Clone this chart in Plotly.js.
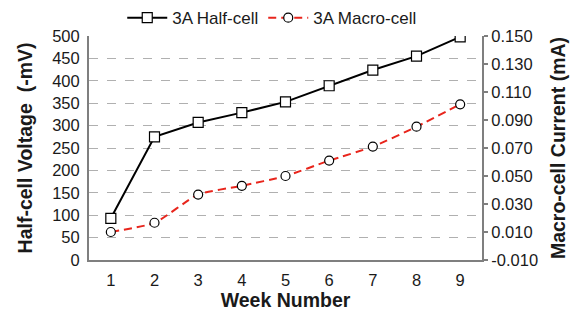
<!DOCTYPE html>
<html>
<head>
<meta charset="utf-8">
<script src="https://cdn.plot.ly/plotly-3.0.1.min.js"></script>
<style>html,body{margin:0;padding:0;background:#fff;}#chart{width:573px;height:311px;}</style>
</head>
<body>
<div id="chart"></div>
<script>
var weeks = [1, 2, 3, 4, 5, 6, 7, 8, 9];
var halfCell = [93, 275, 307, 329, 353, 389, 424, 455, 498];
var macroCell = [0.010, 0.0166, 0.0367, 0.043, 0.050, 0.061, 0.071, 0.0852, 0.1012];
var leftTicks = [0, 50, 100, 150, 200, 250, 300, 350, 400, 450, 500];
var rightTicks = [-0.010, 0.010, 0.030, 0.050, 0.070, 0.090, 0.110, 0.130, 0.150];
var rightTickText = ['-0.010', '0.010', '0.030', '0.050', '0.070', '0.090', '0.110', '0.130', '0.150'];

var font = 'Liberation Sans, Arial, sans-serif';
var traces = [
  {x: weeks, y: halfCell, name: '3A Half-cell', type: 'scatter', mode: 'lines+markers',
   line: {color: '#000000', width: 2},
   marker: {symbol: 'square', size: 10, color: '#ffffff', line: {color: '#000000', width: 1.2}}},
  {x: weeks, y: macroCell, name: '3A Macro-cell', type: 'scatter', mode: 'lines+markers', yaxis: 'y2',
   line: {color: '#e8251c', width: 2, dash: '8px,5px', shape: 'spline', smoothing: 0.6},
   marker: {symbol: 'circle', size: 9, color: '#ffffff', line: {color: '#000000', width: 1.2}}}
];
var layout = {
  width: 573, height: 311,
  margin: {l: 89, r: 91, t: 36, b: 51, autoexpand: false},
  paper_bgcolor: '#ffffff', plot_bgcolor: '#ffffff',
  font: {family: font, size: 16, color: '#1a1a1a'},
  showlegend: true,
  legend: {orientation: 'h', x: 0.465, xanchor: 'center', y: 1.08, yanchor: 'middle',
           font: {size: 17, color: '#1a1a1a'}, itemwidth: 40, tracegroupgap: 0, bgcolor: 'rgba(0,0,0,0)'},
  xaxis: {range: [0.5, 9.5], tickvals: weeks, showgrid: false, zeroline: false,
          showline: true, linecolor: '#7f7f7f', linewidth: 2,
          ticks: 'outside', ticklen: 4, tickcolor: 'rgba(0,0,0,0)',
          tickfont: {size: 16.5}, title: {text: '<b>Week Number</b>', font: {size: 19.5}, standoff: 7}},
  yaxis: {range: [0, 500], tickvals: leftTicks, showgrid: true, gridcolor: '#b0b0b0', griddash: 'dash', gridwidth: 1,
          zeroline: false, showline: true, linecolor: '#7f7f7f', linewidth: 2,
          ticks: 'outside', ticklen: 4, tickcolor: 'rgba(0,0,0,0)',
          tickfont: {size: 16.5}, title: {text: '<b>Half-cell Voltage  (-mV)</b>', font: {size: 19.5}, standoff: 14}},
  yaxis2: {range: [-0.010, 0.150], overlaying: 'y', side: 'right', tickvals: rightTicks, ticktext: rightTickText,
           showgrid: false, zeroline: false, showline: true, linecolor: '#7f7f7f', linewidth: 2,
           ticks: 'outside', ticklen: 4, tickcolor: '#7f7f7f', tickwidth: 1.5,
           tickfont: {size: 16.5}, title: {text: '<b>Macro-cell Current (mA)</b>', font: {size: 19.5}, standoff: 14}}
};
Plotly.newPlot('chart', traces, layout, {displayModeBar: false, staticPlot: true});
</script>
</body>
</html>
